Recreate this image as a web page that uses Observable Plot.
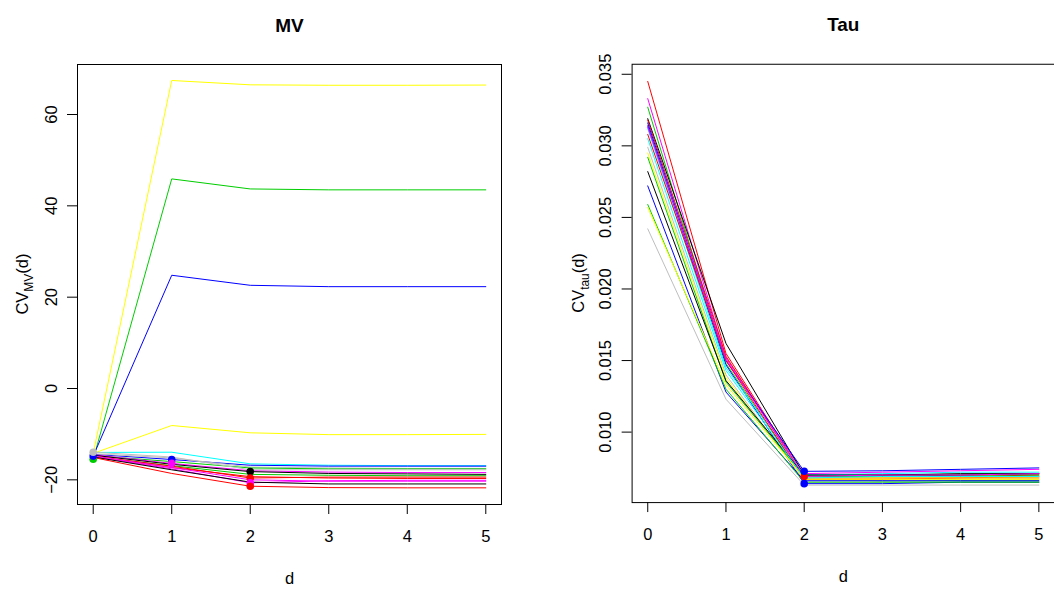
<!DOCTYPE html>
<html>
<head>
<meta charset="utf-8">
<script src="https://cdn.jsdelivr.net/npm/d3@7"></script>
<script src="https://cdn.jsdelivr.net/npm/@observablehq/plot@0.6"></script>
<style>
  html, body { margin: 0; padding: 0; background: white; overflow: hidden; }
  #wrap { position: relative; width: 1054px; height: 589px; overflow: hidden; background: white; }
  #wrap > div, #wrap > svg { position: absolute; top: 0; }
</style>
</head>
<body>
<div id="wrap"><div id="left" style="left:0px"></div><div id="right" style="left:527px"></div></div>
<script>
// ---------- data ----------
const dValues = [0, 1, 2, 3, 4, 5];

const mvTicks = [-20, 0, 20, 40, 60];
const tauTicks = [0.010, 0.015, 0.020, 0.025, 0.030, 0.035];

// R classic palette colours used by the series
const mvColors = [
  "#FFFF00", "#00CD00", "#0000FF", "#FFFF00", "#00FFFF", "#0000FF",
  "#BEBEBE", "#00CD00", "#FF00FF", "#000000", "#00CD00", "#FF0000",
  "#FF0000", "#FF00FF", "#FF00FF", "#000000", "#FF0000", "#BEBEBE"
];
// CV_MV(d), d = 0..5
const mvValues = [
  [-14.2, 67.45, 66.5, 66.4, 66.4, 66.45],
  [-15.5, 45.9, 43.7, 43.5, 43.5, 43.5],
  [-14.8, 24.8, 22.6, 22.3, 22.3, 22.3],
  [-14.2, -8.1, -9.7, -10.1, -10.1, -10.05],
  [-14.0, -13.95, -16.5, -16.8, -16.9, -16.9],
  [-14.4, -15.55, -16.8, -17.0, -17.0, -17.0],
  [-14.3, -15.2, -17.2, -17.4, -17.5, -17.5],
  [-14.7, -16.0, -17.4, -17.6, -17.6, -17.6],
  [-14.5, -16.4, -18.0, -18.3, -18.4, -18.4],
  [-14.6, -16.6, -18.2, -18.6, -18.7, -18.8],
  [-15.0, -16.9, -18.8, -19.0, -19.1, -19.1],
  [-14.8, -17.0, -19.6, -19.4, -19.4, -19.4],
  [-14.9, -17.3, -19.3, -19.6, -19.7, -19.7],
  [-14.9, -17.6, -20.65, -20.2, -20.1, -20.1],
  [-14.8, -17.3, -20.0, -20.3, -20.3, -20.3],
  [-15.0, -17.8, -20.5, -20.9, -20.9, -20.9],
  [-15.1, -18.6, -21.4, -21.7, -21.75, -21.75],
  [-13.95, -15.0, -17.8, -17.8, -17.8, -17.8]
];
// d at which a filled point is drawn (null = none)
const mvMarked = [null, 0, 0, null, null, 1, null, null, 1, 2, null, 2, null, 2, null, null, 2, 0];

const tauColors = [
  "#FF0000", "#FF00FF", "#00CD00", "#000000", "#FF0000", "#0000FF",
  "#0000FF", "#00FFFF", "#FF0000", "#BEBEBE", "#FFFF00", "#00CD00",
  "#000000", "#0000FF", "#00CD00", "#FFFF00", "#BEBEBE", "#FF00FF", "#00FFFF"
];
// CV_tau(d), d = 0..5
const tauValues = [
  [0.0345, 0.0155, 0.0069, 0.0069, 0.0069, 0.0070],
  [0.0333, 0.0152, 0.0071, 0.0072, 0.0073, 0.0074],
  [0.0327, 0.0148, 0.0067, 0.0066, 0.0066, 0.0066],
  [0.0319, 0.0162, 0.0070, 0.0070, 0.0071, 0.0071],
  [0.0318, 0.0153, 0.0068, 0.0068, 0.0068, 0.0069],
  [0.0316, 0.0150, 0.00726, 0.0073, 0.0074, 0.0075],
  [0.0314, 0.0147, 0.0064, 0.0064, 0.0065, 0.0065],
  [0.0312, 0.0145, 0.0070, 0.0071, 0.0072, 0.0072],
  [0.0308, 0.0150, 0.0067, 0.0067, 0.0068, 0.0068],
  [0.0299, 0.0140, 0.0066, 0.0066, 0.0067, 0.0067],
  [0.0295, 0.0138, 0.0067, 0.0067, 0.0067, 0.0067],
  [0.0292, 0.0135, 0.0069, 0.0069, 0.0070, 0.0070],
  [0.0282, 0.0136, 0.0070, 0.0070, 0.0070, 0.0071],
  [0.0272, 0.0128, 0.0066, 0.0066, 0.0066, 0.0066],
  [0.0259, 0.0130, 0.0065, 0.0065, 0.0065, 0.0065],
  [0.0257, 0.0133, 0.0068, 0.0068, 0.0068, 0.0068],
  [0.0242, 0.0123, 0.0063, 0.0063, 0.0063, 0.0063],
  [0.0313, 0.0151, 0.0069, 0.0070, 0.0070, 0.0071],
  [0.0305, 0.0143, 0.0068, 0.0069, 0.0069, 0.0069]
];
const tauMarked = [2, null, null, null, null, 2, 2, null, null, null, null, null, null, null, null, null, null, null, null];

// ---------- build tables ----------
function rowsOf(values, colors) {
  const rows = [];
  values.forEach((vals, i) => vals.forEach((v, j) => rows.push({series: i, d: dValues[j], v, color: colors[i]})));
  return rows;
}
function markedOf(values, colors, marked) {
  const rows = [];
  marked.forEach((m, i) => { if (m !== null) rows.push({d: dValues[m], v: values[i][m], color: colors[i]}); });
  return rows;
}

const FONT = "'Liberation Sans', Arial, Helvetica, sans-serif";
const FS = 16.5;

function panel({title, rows, pts, yDomain, yTicks, yFormat, width, marginLeft, marginRight, labelMain, labelSub, labelX}) {
  const svg = Plot.plot({
    width, height: 589,
    marginLeft, marginRight, marginTop: 64, marginBottom: 85,
    x: {domain: [-0.2, 5.2]},
    y: {domain: yDomain},
    color: {type: "identity"},
    style: {fontFamily: FONT, fontSize: FS + "px", color: "black", background: "white", overflow: "visible"},
    marks: [
      Plot.frame({stroke: "black", strokeWidth: 1}),
      Plot.axisX(dValues, {tickSize: 10, tickPadding: 16, label: null, fontSize: FS}),
      Plot.axisY(yTicks, {tickSize: 10, tickRotate: -90, tickPadding: 11, tickFormat: yFormat, label: null, fontSize: FS}),
      Plot.line(rows, {x: "d", y: "v", z: "series", stroke: "color", strokeWidth: 1}),
      Plot.dot(pts, {x: "d", y: "v", fill: "color", r: 3.8}),
      Plot.text([title], {frameAnchor: "top", dy: -39, lineAnchor: "middle", fontWeight: "bold", fontSize: 19}),
      Plot.text(["d"], {frameAnchor: "bottom", dy: 74, lineAnchor: "middle", fontSize: FS})
    ]
  });
  // y axis label with subscript
  const t = d3.select(svg).append("text")
    .attr("transform", `translate(${labelX},284) rotate(-90)`)
    .attr("text-anchor", "middle")
    .attr("font-family", FONT)
    .attr("font-size", FS)
    .attr("fill", "black");
  t.append("tspan").text("CV");
  t.append("tspan").attr("font-size", 12).attr("dy", 5).text(labelSub);
  t.append("tspan").attr("dy", -5).text("(d)");
  return svg;
}

document.getElementById("left").appendChild(panel({
  title: "MV",
  rows: rowsOf(mvValues, mvColors),
  pts: markedOf(mvValues, mvColors, mvMarked),
  yDomain: [-25.4, 70.95],
  yTicks: mvTicks,
  yFormat: d => d < 0 ? "\u2212" + Math.abs(d) : String(d),
  width: 527, marginLeft: 77, marginRight: 26,
  labelSub: "MV", labelX: 28
}));

document.getElementById("right").appendChild(panel({
  title: "Tau",
  rows: rowsOf(tauValues, tauColors),
  pts: markedOf(tauValues, tauColors, tauMarked),
  yDomain: [0.005077, 0.0357],
  yTicks: tauTicks,
  yFormat: d3.format(".3f"),
  width: 529, marginLeft: 105, marginRight: 0,
  labelSub: "tau", labelX: 57
}));
</script>
</body>
</html>
